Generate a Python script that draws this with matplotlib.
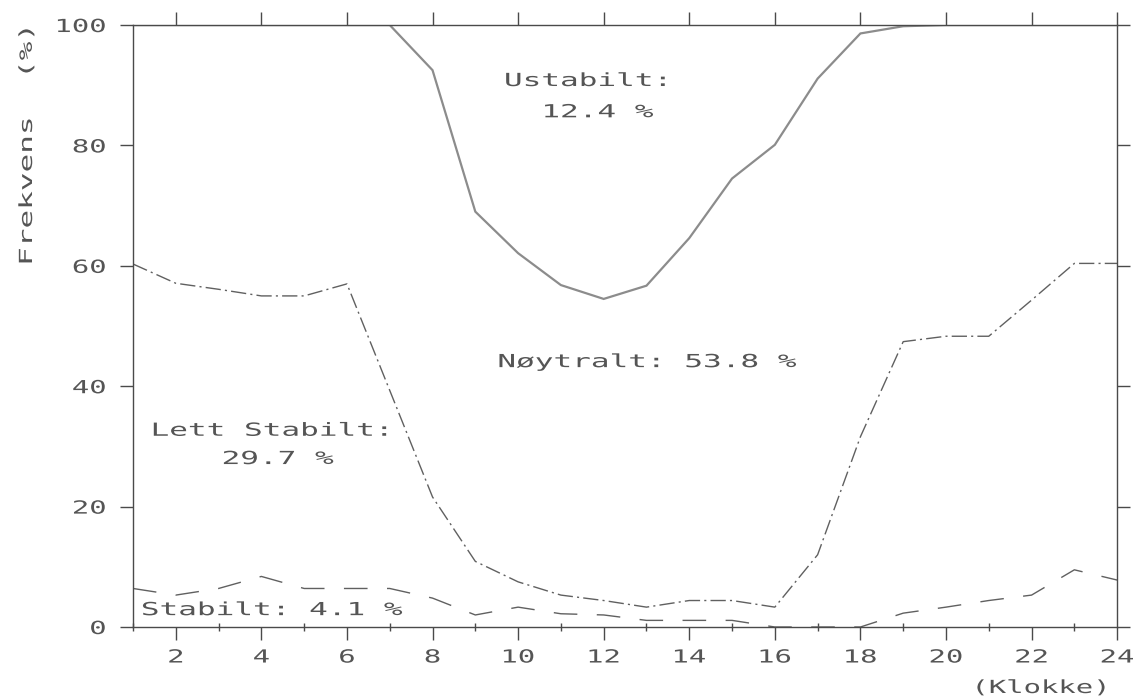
import numpy as np
import matplotlib
matplotlib.use('Agg')
import matplotlib.pyplot as plt
from matplotlib.patheffects import AbstractPathEffect
from matplotlib.transforms import Affine2D

# data
hours = list(range(1, 25))
ustabil = [100, 100, 100, 100, 100, 100, 100, 92.5, 69.0, 62.1, 56.8, 54.5,
           56.7, 64.6, 74.5, 80.1, 91.1, 98.6, 99.8, 100, 100, 100, 100, 100]
noytral = [60.3, 57.1, 56.1, 55.0, 55.0, 57.0, 39.3, 21.6, 10.9, 7.5, 5.3, 4.4,
           3.3, 4.4, 4.4, 3.3, 12.0, 31.6, 47.4, 48.3, 48.3, 54.3, 60.4, 60.4]
stabil = [6.4, 5.3, 6.4, 8.4, 6.4, 6.4, 6.4, 4.8, 2.0, 3.3, 2.2, 2.0,
          1.1, 1.1, 1.1, 0, 0, 0, 2.3, 3.3, 4.4, 5.3, 9.5, 7.8]

xticks = list(range(2, 25, 2))
yticks = [0, 20, 40, 60, 80, 100]

labels = ['Ustabilt:', '12.4 %', 'Nøytralt: 53.8 %', 'Lett Stabilt:', '29.7 %', 'Stabilt: 4.1 %']
label_x = [11.61, 11.87, 13.02, 4.23, 4.39, 4.25]
label_y = [90.7, 85.5, 44.0, 32.6, 27.9, 2.8]


class Stretch(AbstractPathEffect):
    # widen glyphs horizontally, like the old plotter font
    def __init__(self, sx=1.6, anchor='center'):
        super().__init__()
        self.sx = sx
        self.anchor = anchor

    def draw_path(self, renderer, gc, tpath, affine, rgbFace=None):
        ext = tpath.get_extents()
        if self.anchor == 'right':
            ax0 = ext.x1
        elif self.anchor == 'left':
            ax0 = ext.x0
        else:
            ax0 = 0.5 * (ext.x0 + ext.x1)
        tr = Affine2D().translate(-ax0, 0).scale(self.sx, 1).translate(ax0, 0)
        renderer.draw_path(gc, tpath, tr + affine, rgbFace)


plt.rcParams['font.family'] = ['DejaVu Sans Mono']
plt.rcParams['lines.scale_dashes'] = False
tc = '#555555'
SX = 1.72

fig = plt.figure(figsize=(11.33, 6.99), dpi=100)
ax = fig.add_axes([0.1174, 0.1030, 0.8686, 0.8612])

ax.plot(hours, ustabil, color='#8c8c8c', lw=1.6, solid_joinstyle='miter')
ax.plot(hours, noytral, color='#606060', lw=1.0, dashes=(11, 3, 1.5, 3))
ax.plot(hours, stabil, color='#606060', lw=1.0, dashes=(17, 14))

ax.set_xlim(1, 24)
ax.set_ylim(0, 100)
ax.set_xticks(xticks)
ax.set_xticks(range(1, 25, 2), minor=True)
ax.set_yticks(yticks)
ax.set_yticks([], minor=True)

for s in ax.spines.values():
    s.set_color('#4a4a4a')
    s.set_linewidth(1.0)

ax.tick_params(which='major', direction='out', length=9.5, width=1.0, color='#4a4a4a',
               labelcolor=tc, labelsize=13, top=True, right=True, pad=6)
ax.tick_params(axis='y', which='major', pad=10)
ax.tick_params(which='minor', direction='inout', length=6, width=1.0, color='#4a4a4a',
               top=False, bottom=True)

for t in ax.get_xticklabels():
    t.set_path_effects([Stretch(1.6, 'center')])
for t in ax.get_yticklabels():
    t.set_path_effects([Stretch(1.6, 'right')])

for s, x, y in zip(labels, label_x, label_y):
    ax.text(x, y, s, ha='center', va='center', fontsize=13, color=tc,
            path_effects=[Stretch(SX, 'center')])

fig.text(27 / 1133, 1 - 145 / 699, 'Frekvens  (%)', rotation=90, ha='center',
         va='center', fontsize=13, color=tc, path_effects=[Stretch(SX, 'center')])
fig.text(1041 / 1133, 1 - 688 / 699, '(Klokke)', ha='center', va='center',
         fontsize=13, color=tc, path_effects=[Stretch(1.6, 'center')])

fig.savefig('out.png', dpi=100)
